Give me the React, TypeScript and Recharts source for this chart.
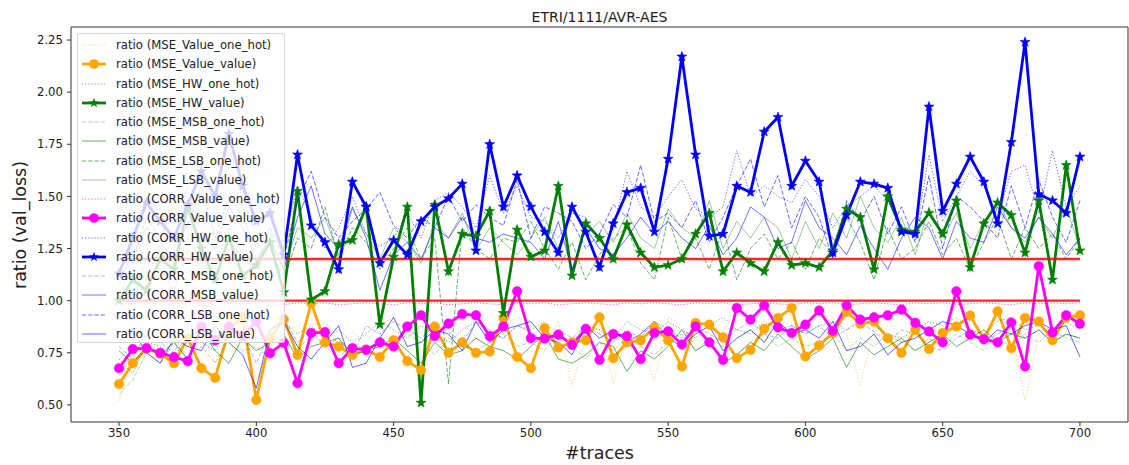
import React from 'react';
import { LineChart, Line, XAxis, YAxis, ReferenceLine, ReferenceArea } from 'recharts';

const traces = [
  350, 355, 360, 365, 370, 375, 380, 385, 390, 395,
  400, 405, 410, 415, 420, 425, 430, 435, 440, 445,
  450, 455, 460, 465, 470, 475, 480, 485, 490, 495,
  500, 505, 510, 515, 520, 525, 530, 535, 540, 545,
  550, 555, 560, 565, 570, 575, 580, 585, 590, 595,
  600, 605, 610, 615, 620, 625, 630, 635, 640, 645,
  650, 655, 660, 665, 670, 675, 680, 685, 690, 695,
  700,
];

const mseValueOneHot = [
  0.52, 0.72, 0.80, 0.76, 0.70, 0.78, 0.85, 0.70, 0.80, 0.88,
  0.62, 0.78, 0.86, 0.88, 0.82, 0.90, 0.78, 0.85, 0.80, 0.88,
  0.92, 0.85, 0.80, 0.88, 0.86, 0.90, 0.82, 0.78, 0.88, 0.92,
  0.86, 0.78, 0.90, 0.59, 0.82, 0.88, 0.60, 0.84, 0.80, 0.62,
  0.92, 0.88, 0.78, 0.84, 0.90, 0.82, 0.86, 0.80, 0.92, 0.88,
  0.90, 0.86, 0.92, 0.84, 0.59, 0.88, 0.92, 0.80, 0.86, 0.90,
  0.82, 0.88, 0.92, 0.78, 0.94, 0.86, 0.52, 0.84, 0.88, 0.80,
  0.90,
];
const mseValueValue = [
  0.60, 0.70, 0.77, 0.745, 0.70, 0.82, 0.676, 0.63, 0.86, 0.92,
  0.524, 0.82, 0.91, 0.74, 0.99, 0.80, 0.78, 0.74, 0.765, 0.73,
  0.81, 0.71, 0.668, 0.876, 0.75, 0.80, 0.75, 0.756, 0.917, 0.73,
  0.676, 0.868, 0.775, 0.80, 0.81, 0.92, 0.724, 0.80, 0.81, 0.872,
  0.81, 0.684, 0.893, 0.885, 0.824, 0.724, 0.764, 0.865, 0.917, 0.965,
  0.732, 0.785, 0.845, 0.946, 0.889, 0.90, 0.82, 0.75, 0.86, 0.768,
  0.845, 0.876, 0.928, 0.815, 0.949, 0.772, 0.917, 0.90, 0.81, 0.92,
  0.93,
];
const mseHwOneHot = [
  0.72, 0.65, 0.80, 0.78, 0.72, 0.85, 0.80, 0.76, 0.88, 0.82,
  0.80, 0.86, 0.90, 0.84, 0.88, 0.82, 0.86, 0.80, 0.84, 0.90,
  0.86, 0.82, 0.88, 0.84, 0.80, 0.86, 0.90, 0.84, 0.82, 0.88,
  0.86, 0.90, 0.84, 0.80, 0.88, 0.86, 0.82, 0.90, 0.86, 0.84,
  0.90, 0.86, 0.82, 0.88, 0.92, 0.86, 0.84, 0.90, 0.86, 0.88,
  0.84, 0.88, 0.90, 0.86, 0.92, 0.88, 0.84, 0.82, 0.86, 0.90,
  0.88, 0.92, 0.86, 0.84, 0.90, 0.92, 0.86, 0.88, 0.84, 0.90,
  0.86,
];
const mseHwValue = [
  1.00, 1.10, 1.05, 1.20, 1.15, 1.45, 1.25, 1.10, 1.30, 1.12,
  1.17, 1.28, 1.04, 1.525, 1.005, 1.045, 1.27, 1.29, 1.45, 0.885,
  1.21, 1.45, 0.51, 1.46, 1.14, 1.32, 1.31, 1.43, 0.94, 1.34,
  1.21, 1.24, 1.55, 1.12, 1.37, 1.30, 1.20, 1.365, 1.23, 1.16,
  1.17, 1.20, 1.32, 1.42, 1.14, 1.23, 1.18, 1.14, 1.28, 1.17,
  1.18, 1.16, 1.24, 1.44, 1.40, 1.15, 1.50, 1.34, 1.33, 1.42,
  1.32, 1.48, 1.16, 1.37, 1.47, 1.41, 1.23, 1.48, 1.10, 1.65,
  1.24,
];
const mseMsbOneHot = [
  0.55, 0.62, 0.75, 0.70, 0.80, 0.72, 0.78, 0.70, 0.82, 0.76,
  0.78, 0.72, 0.80, 0.76, 0.84, 0.78, 0.72, 0.80, 0.76, 0.82,
  0.78, 0.84, 0.80, 0.74, 0.82, 0.78, 0.76, 0.80, 0.84, 0.78,
  0.80, 0.76, 0.84, 0.78, 0.72, 0.80, 0.76, 0.82, 0.78, 0.74,
  0.80, 0.84, 0.76, 0.82, 0.78, 0.74, 0.80, 0.84, 0.78, 0.82,
  0.78, 0.80, 0.84, 0.76, 0.82, 0.78, 0.84, 0.80, 0.76, 0.82,
  0.78, 0.84, 0.80, 0.76, 0.82, 0.78, 0.84, 0.80, 0.86, 0.82,
  0.80,
];
const mseMsbValue = [
  0.76, 0.70, 0.78, 0.74, 0.80, 0.72, 0.86, 0.76, 0.70, 0.82,
  0.76, 0.80, 0.84, 0.72, 0.78, 0.80, 0.82, 0.74, 0.76, 0.78,
  0.82, 0.76, 0.70, 0.80, 0.74, 0.76, 0.82, 0.78, 0.76, 0.72,
  0.78, 0.84, 0.72, 0.70, 0.74, 0.80, 0.78, 0.66, 0.76, 0.72,
  0.78, 0.86, 0.76, 0.80, 0.70, 0.74, 0.80, 0.76, 0.84, 0.78,
  0.72, 0.76, 0.82, 0.68, 0.80, 0.74, 0.78, 0.82, 0.76, 0.80,
  0.84, 0.78, 0.82, 0.86, 0.80, 0.84, 0.82, 0.86, 0.80, 0.84,
  0.82,
];
const mseLsbOneHot = [
  1.10, 1.00, 1.20, 1.15, 1.05, 1.25, 1.18, 1.10, 1.30, 1.20,
  1.15, 1.25, 1.10, 1.30, 1.25, 1.45, 1.20, 1.35, 1.28, 1.15,
  1.25, 1.35, 1.20, 1.30, 0.60, 1.35, 1.25, 1.20, 1.30, 1.28,
  1.38, 1.25, 1.15, 1.28, 1.10, 1.22, 1.30, 1.35, 1.18, 1.10,
  1.40, 1.20, 1.30, 1.15, 1.35, 1.10, 1.25, 1.32, 1.20, 1.28,
  1.15, 1.30, 1.22, 1.40, 1.28, 1.10, 1.35, 1.20, 1.25, 1.38,
  1.22, 1.30, 1.15, 1.28, 1.40, 1.20, 1.35, 1.25, 1.32, 1.20,
  1.30,
];
const mseLsbValue = [
  1.05, 1.15, 1.10, 1.25, 1.18, 1.30, 1.20, 1.15, 1.35, 1.22,
  1.20, 1.28, 1.15, 1.35, 1.30, 1.40, 1.22, 1.44, 1.32, 1.20,
  1.35, 1.28, 1.18, 1.38, 1.30, 1.42, 1.24, 1.35, 1.28, 1.22,
  1.30, 1.40, 1.25, 1.45, 1.32, 1.38, 1.28, 1.42, 1.30, 1.25,
  1.44, 1.35, 1.30, 1.48, 1.25, 1.38, 1.30, 1.40, 1.35, 1.20,
  1.38, 1.25, 1.42, 1.30, 1.50, 1.35, 1.28, 1.40, 1.22, 1.45,
  1.30, 1.42, 1.25, 1.38, 1.48, 1.35, 1.28, 1.40, 1.30, 1.45,
  1.25,
];
const corrValueOneHot = [
  0.99, 0.985, 0.99, 0.98, 0.985, 0.99, 0.985, 0.98, 0.99, 0.985,
  0.99, 0.985, 0.98, 0.99, 0.985, 0.99, 0.98, 0.985, 0.99, 0.985,
  0.98, 0.99, 0.985, 0.99, 0.98, 0.985, 0.99, 0.985, 0.98, 0.99,
  0.985, 0.99, 0.98, 0.985, 0.99, 0.985, 0.98, 0.99, 0.985, 0.99,
  0.985, 0.98, 0.99, 0.985, 0.99, 0.98, 0.985, 0.99, 0.985, 0.98,
  0.99, 0.985, 0.99, 0.98, 0.985, 0.99, 0.985, 0.98, 0.99, 0.985,
  0.99, 0.98, 0.985, 0.99, 0.985, 0.98, 0.99, 0.985, 0.99, 0.985,
  0.99,
];
const corrValueValue = [
  0.676, 0.768, 0.772, 0.75, 0.729, 0.71, 0.876, 0.81, 0.876, 0.83,
  0.90, 0.748, 0.797, 0.604, 0.845, 0.849, 0.70, 0.772, 0.764, 0.80,
  0.78, 0.876, 0.93, 0.83, 0.89, 0.936, 0.93, 0.83, 0.876, 1.045,
  0.82, 0.818, 0.837, 0.788, 0.865, 0.716, 0.84, 0.83, 0.72, 0.845,
  0.853, 0.79, 0.876, 0.80, 0.716, 0.965, 0.909, 0.977, 0.872, 0.845,
  0.885, 0.952, 0.856, 0.977, 0.909, 0.92, 0.93, 0.957, 0.894, 0.852,
  0.80, 1.045, 0.837, 0.815, 0.80, 0.895, 0.684, 1.165, 0.848, 0.93,
  0.889,
];
const corrHwOneHot = [
  1.20, 1.35, 1.50, 1.42, 1.30, 1.55, 1.48, 1.40, 1.65, 1.50,
  1.30, 1.45, 1.28, 1.55, 1.40, 1.25, 1.35, 1.50, 1.32, 1.26,
  1.30, 1.42, 1.30, 1.48, 1.52, 1.45, 1.35, 1.60, 1.42, 1.55,
  1.40, 1.38, 1.30, 1.42, 1.40, 1.28, 1.35, 1.62, 1.45, 1.40,
  1.50, 1.58, 1.44, 1.40, 1.45, 1.72, 1.50, 1.55, 1.50, 1.47,
  1.58, 1.50, 1.35, 1.45, 1.50, 1.55, 1.48, 1.35, 1.30, 1.70,
  1.38, 1.50, 1.62, 1.55, 1.40, 1.62, 1.65, 1.42, 1.72, 1.45,
  1.55,
];
const corrHwValue = [
  1.13, 1.30, 1.47, 1.38, 1.30, 1.46, 1.62, 1.50, 1.80, 1.55,
  1.38, 1.42, 1.22, 1.70, 1.36, 1.28, 1.15, 1.57, 1.45, 1.18,
  1.29, 1.22, 1.38, 1.45, 1.49, 1.56, 1.24, 1.75, 1.45, 1.60,
  1.45, 1.33, 1.23, 1.45, 1.33, 1.16, 1.37, 1.52, 1.54, 1.33,
  1.68, 2.17, 1.70, 1.31, 1.32, 1.55, 1.52, 1.81, 1.88, 1.55,
  1.67, 1.57, 1.23, 1.41, 1.57, 1.56, 1.54, 1.33, 1.32, 1.93,
  1.43, 1.56, 1.69, 1.57, 1.37, 1.76, 2.24, 1.51, 1.48, 1.42,
  1.69,
];
const corrMsbOneHot = [
  0.78, 0.72, 0.85, 0.80, 0.75, 0.88, 0.82, 0.78, 0.90, 0.84,
  0.70, 0.85, 0.92, 0.80, 0.86, 0.78, 0.82, 0.74, 0.88, 0.84,
  0.90, 0.86, 0.82, 0.88, 0.85, 0.80, 0.90, 0.86, 0.82, 0.88,
  0.85, 0.80, 0.86, 0.82, 0.88, 0.84, 0.80, 0.86, 0.82, 0.90,
  0.86, 0.82, 0.88, 0.84, 0.80, 0.86, 0.90, 0.84, 0.82, 0.88,
  0.84, 0.88, 0.82, 0.86, 0.90, 0.85, 0.80, 0.86, 0.84, 0.78,
  0.76, 0.82, 0.86, 0.80, 0.84, 0.88, 0.82, 0.86, 0.80, 0.84,
  0.82,
];
const corrMsbValue = [
  1.10, 1.22, 1.35, 1.28, 1.20, 1.38, 1.30, 1.25, 1.45, 1.35,
  1.20, 1.30, 1.15, 1.40, 1.55, 1.32, 1.25, 1.45, 1.30, 1.05,
  1.22, 1.28, 1.20, 1.35, 1.30, 1.40, 1.30, 1.28, 1.32, 1.30,
  1.28, 1.20, 1.38, 1.15, 1.35, 1.25, 1.22, 1.30, 1.40, 1.32,
  1.38, 1.30, 1.25, 1.36, 1.22, 1.30, 1.45, 1.40, 1.25, 1.28,
  1.48, 1.35, 1.30, 1.22, 1.36, 1.25, 1.15, 1.30, 1.40, 1.35,
  1.20, 1.38, 1.30, 1.28, 1.45, 1.35, 1.30, 1.40, 1.32, 1.22,
  1.30,
];
const corrLsbOneHot = [
  1.25, 1.18, 1.40, 1.30, 1.45, 1.35, 1.55, 1.30, 1.50, 1.40,
  1.25, 1.35, 1.20, 1.48, 1.62, 1.40, 1.30, 1.38, 1.44, 1.52,
  1.36, 1.30, 1.40, 1.35, 1.50, 1.38, 1.46, 1.40, 1.36, 1.58,
  1.30, 1.45, 1.42, 1.38, 1.25, 1.32, 1.46, 1.40, 1.65, 1.38,
  1.42, 1.35, 1.48, 1.28, 1.40, 1.55, 1.68, 1.45, 1.60, 1.35,
  1.50, 1.40, 1.20, 1.48, 1.38, 1.50, 1.32, 1.45, 1.28, 1.60,
  1.25, 1.50, 1.45, 1.38, 1.30, 1.55, 1.35, 1.58, 1.40, 1.28,
  1.48,
];
const corrLsbValue = [
  0.80, 0.86, 0.75, 0.70, 0.82, 0.78, 0.76, 0.88, 0.80, 0.74,
  0.58, 0.86, 0.90, 0.78, 0.72, 0.80, 0.88, 0.68, 0.70, 0.82,
  0.92, 0.78, 0.80, 0.86, 0.84, 0.76, 0.90, 0.80, 0.86, 0.88,
  0.90, 0.82, 0.80, 0.74, 0.88, 0.82, 0.86, 0.80, 0.84, 0.90,
  0.82, 0.78, 0.84, 0.88, 0.76, 0.82, 0.86, 0.80, 0.90, 0.84,
  0.86, 0.82, 0.90, 0.76, 0.78, 0.84, 0.74, 0.80, 0.82, 0.86,
  0.90, 0.88, 0.84, 0.80, 0.86, 0.84, 0.88, 0.90, 0.86, 0.88,
  0.73,
];

const xTicks = [350, 400, 450, 500, 550, 600, 650, 700];
const yTicks = [0.5, 0.75, 1.0, 1.25, 1.5, 1.75, 2.0, 2.25];
const thresholds = [1.2, 1.0];

const DOTTED = '1.2 1.9';
const DASHED = '4.3 1.9';

type Def = {
  key: string;
  label: string;
  data: number[];
  color: string;
  width: number;
  opacity: number;
  dash?: string;
  marker?: 'circle' | 'star';
};

const defs: Def[] = [
  { key: 'mse_value_one_hot', label: 'ratio (MSE_Value_one_hot)', data: mseValueOneHot, color: '#FFA500', width: 1, opacity: 0.5, dash: DOTTED },
  { key: 'mse_value_value', label: 'ratio (MSE_Value_value)', data: mseValueValue, color: '#FFA500', width: 2.8, opacity: 1, marker: 'circle' },
  { key: 'mse_hw_one_hot', label: 'ratio (MSE_HW_one_hot)', data: mseHwOneHot, color: '#008000', width: 1, opacity: 0.6, dash: DOTTED },
  { key: 'mse_hw_value', label: 'ratio (MSE_HW_value)', data: mseHwValue, color: '#008000', width: 2.8, opacity: 1, marker: 'star' },
  { key: 'mse_msb_one_hot', label: 'ratio (MSE_MSB_one_hot)', data: mseMsbOneHot, color: '#008000', width: 1, opacity: 0.3, dash: DASHED },
  { key: 'mse_msb_value', label: 'ratio (MSE_MSB_value)', data: mseMsbValue, color: '#008000', width: 1, opacity: 0.6 },
  { key: 'mse_lsb_one_hot', label: 'ratio (MSE_LSB_one_hot)', data: mseLsbOneHot, color: '#008000', width: 1, opacity: 0.6, dash: DASHED },
  { key: 'mse_lsb_value', label: 'ratio (MSE_LSB_value)', data: mseLsbValue, color: '#008000', width: 1, opacity: 0.4 },
  { key: 'corr_value_one_hot', label: 'ratio (CORR_Value_one_hot)', data: corrValueOneHot, color: '#FF00FF', width: 1, opacity: 0.7, dash: DOTTED },
  { key: 'corr_value_value', label: 'ratio (CORR_Value_value)', data: corrValueValue, color: '#FF00FF', width: 2.8, opacity: 1, marker: 'circle' },
  { key: 'corr_hw_one_hot', label: 'ratio (CORR_HW_one_hot)', data: corrHwOneHot, color: '#0000FF', width: 1, opacity: 0.6, dash: DOTTED },
  { key: 'corr_hw_value', label: 'ratio (CORR_HW_value)', data: corrHwValue, color: '#0000FF', width: 2.8, opacity: 1, marker: 'star' },
  { key: 'corr_msb_one_hot', label: 'ratio (CORR_MSB_one_hot)', data: corrMsbOneHot, color: '#0000FF', width: 1, opacity: 0.3, dash: DASHED },
  { key: 'corr_msb_value', label: 'ratio (CORR_MSB_value)', data: corrMsbValue, color: '#0000FF', width: 1, opacity: 0.55 },
  { key: 'corr_lsb_one_hot', label: 'ratio (CORR_LSB_one_hot)', data: corrLsbOneHot, color: '#0000FF', width: 1, opacity: 0.6, dash: DASHED },
  { key: 'corr_lsb_value', label: 'ratio (CORR_LSB_value)', data: corrLsbValue, color: '#0000FF', width: 1, opacity: 0.6 },
];

const rows = traces.map((x, i) => {
  const r: Record<string, number> = { x };
  defs.forEach((d) => {
    r[d.key] = d.data[i];
  });
  return r;
});

const starPoints = (cx: number, cy: number, ro: number, ri: number) => {
  const pts: string[] = [];
  for (let k = 0; k < 10; k++) {
    const r = k % 2 === 0 ? ro : ri;
    const a = (-90 + k * 36) * (Math.PI / 180);
    pts.push(`${(cx + r * Math.cos(a)).toFixed(2)},${(cy + r * Math.sin(a)).toFixed(2)}`);
  }
  return pts.join(' ');
};

const makeDot = (d: Def) => (props: any) => {
  const { cx, cy, index } = props;
  if (cx == null || cy == null) return <g key={`${d.key}-e-${index}`} />;
  if (d.marker === 'star') {
    return (
      <polygon
        key={`${d.key}-${index}`}
        points={starPoints(cx, cy, 5.2, 2.1)}
        fill={d.color}
        stroke={d.color}
        strokeWidth={0.6}
      />
    );
  }
  return <circle key={`${d.key}-${index}`} cx={cx} cy={cy} r={4.8} fill={d.color} stroke={d.color} strokeWidth={0.5} />;
};

const FONT = '"DejaVu Sans", sans-serif';
const PLOT_LEFT = 71;
const PLOT_TOP = 27;
const PLOT_RIGHT = 1128;
const PLOT_BOTTOM = 422;

const LegendSample = ({ d }: { d: Def }) => (
  <svg width={26} height={12} style={{ display: 'block' }}>
    <line
      x1={1}
      y1={6}
      x2={25}
      y2={6}
      stroke={d.color}
      strokeOpacity={d.opacity}
      strokeWidth={d.width}
      strokeDasharray={d.dash}
    />
    {d.marker === 'star' && <polygon points={starPoints(13, 6, 5.2, 2.1)} fill={d.color} />}
    {d.marker === 'circle' && <circle cx={13} cy={6} r={4.8} fill={d.color} />}
  </svg>
);

export default function App() {
  return (
    <div
      style={{
        position: 'absolute',
        left: 0,
        top: 0,
        width: 1129,
        height: 465,
        background: '#ffffff',
        fontFamily: FONT,
        overflow: 'hidden',
      }}
    >
      <LineChart
        width={1129}
        height={465}
        data={rows}
        margin={{ top: PLOT_TOP, right: 1129 - PLOT_RIGHT, bottom: 0, left: 0 }}
      >
        <XAxis
          dataKey="x"
          type="number"
          domain={[332.5, 717.5]}
          ticks={xTicks}
          allowDataOverflow
          height={465 - PLOT_BOTTOM}
          tickSize={4}
          tickMargin={3}
          axisLine={false}
          tickLine={{ stroke: '#333' }}
          tick={{ fill: '#222', fontSize: 11.7, fontFamily: FONT }}
          interval={0}
        />
        <YAxis
          type="number"
          domain={[0.418, 2.3125]}
          ticks={yTicks}
          allowDataOverflow
          width={PLOT_LEFT}
          tickSize={4}
          tickMargin={4}
          axisLine={false}
          tickLine={{ stroke: '#333' }}
          tick={{ fill: '#222', fontSize: 11.7, fontFamily: FONT }}
          tickFormatter={(v: number) => v.toFixed(2)}
          interval={0}
        />
        {defs.map((d) => (
          <Line
            key={d.key}
            dataKey={d.key}
            type="linear"
            stroke={d.color}
            strokeOpacity={d.opacity}
            strokeWidth={d.width}
            strokeDasharray={d.dash}
            dot={d.marker ? makeDot(d) : false}
            activeDot={false}
            isAnimationActive={false}
            legendType="none"
          />
        ))}
        {thresholds.map((t) => (
          <ReferenceLine
            key={`thr-${t}`}
            segment={[
              { x: traces[0], y: t },
              { x: traces[traces.length - 1], y: t },
            ]}
            stroke="#ff0000"
            strokeOpacity={0.85}
            strokeWidth={2.4}
          />
        ))}
        <ReferenceArea
          x1={332.5}
          x2={717.5}
          y1={0.418}
          y2={2.3125}
          fill="none"
          fillOpacity={0}
          stroke="#333"
          strokeWidth={1}
        />
      </LineChart>

      <div
        style={{
          position: 'absolute',
          left: PLOT_LEFT,
          width: PLOT_RIGHT - PLOT_LEFT,
          top: 9,
          textAlign: 'center',
          fontSize: 14,
          lineHeight: '16px',
          color: '#222',
        }}
      >
        ETRI/1111/AVR-AES
      </div>

      <div
        style={{
          position: 'absolute',
          left: PLOT_LEFT,
          width: PLOT_RIGHT - PLOT_LEFT,
          top: 444,
          textAlign: 'center',
          fontSize: 17.5,
          lineHeight: '18px',
          color: '#222',
        }}
      >
        #traces
      </div>

      <div
        style={{
          position: 'absolute',
          left: 20 - 100,
          top: (PLOT_TOP + PLOT_BOTTOM) / 2 - 10,
          width: 200,
          height: 20,
          lineHeight: '20px',
          textAlign: 'center',
          fontSize: 17.5,
          color: '#222',
          transform: 'rotate(-90deg)',
        }}
      >
        ratio (val_loss)
      </div>

      <div
        style={{
          position: 'absolute',
          left: 77,
          top: 33,
          width: 208,
          height: 310,
          background: 'rgba(255,255,255,0.8)',
          border: '1px solid rgba(204,204,204,0.8)',
          borderRadius: 3,
          boxSizing: 'border-box',
        }}
      >
        {defs.map((d, i) => (
          <div
            key={d.key}
            style={{
              position: 'absolute',
              left: 3,
              top: 11 + i * 19.25 - 9,
              height: 18,
              display: 'flex',
              alignItems: 'center',
              whiteSpace: 'nowrap',
            }}
          >
            <LegendSample d={d} />
            <span style={{ marginLeft: 9, fontSize: 11.7, color: '#222', lineHeight: '18px' }}>{d.label}</span>
          </div>
        ))}
      </div>
    </div>
  );
}
